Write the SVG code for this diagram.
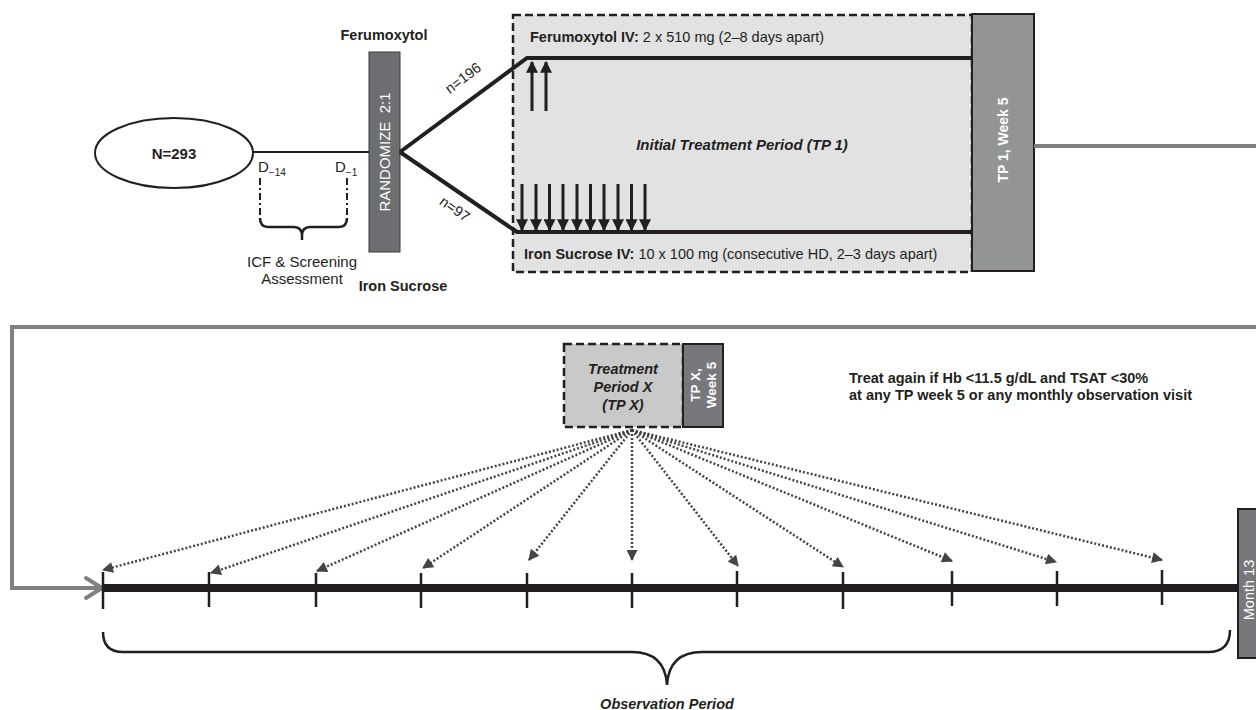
<svg xmlns="http://www.w3.org/2000/svg" width="1256" height="710" viewBox="0 0 1256 710">
<defs>
<style>
text{font-family:"Liberation Sans",Arial,sans-serif;fill:#231f20}
.b{font-weight:bold}
.bi{font-weight:bold;font-style:italic}
.w{fill:#ffffff;font-weight:bold}
.wn{fill:#ffffff}
.thick{stroke:#231f20;stroke-width:4;fill:none}
.dot{stroke:#444;stroke-width:2.5;stroke-dasharray:2 2;fill:none}
.tick{stroke:#231f20;stroke-width:2.5}
</style>
<marker id="ah" viewBox="0 0 10 10" refX="9" refY="5" markerWidth="4" markerHeight="4" orient="auto" markerUnits="strokeWidth">
<path d="M0,0 L10,5 L0,10 z" fill="#231f20"/>
</marker>
<marker id="dh" viewBox="0 0 10 10" refX="9" refY="5" markerWidth="5" markerHeight="4.4" orient="auto" markerUnits="strokeWidth">
<path d="M0,0 L10,5 L0,10 z" fill="#444"/>
</marker>
</defs>

<g id="enroll">
<ellipse cx="174" cy="153" rx="79" ry="35" fill="#fff" stroke="#231f20" stroke-width="2"/>
<text x="174" y="159" text-anchor="middle" class="b" font-size="15">N=293</text>
</g>

<g id="screening">
<text x="258" y="172" font-size="15">D<tspan font-size="10" dy="4">−14</tspan></text>
<text x="335" y="172" font-size="15">D<tspan font-size="10" dy="4">−1</tspan></text>
<path d="M260,178 V218 M347,178 V218" stroke="#231f20" stroke-width="2" stroke-dasharray="7 3 2 3" fill="none"/>
<path d="M260,218 Q260,227 268,227 H294 Q302,227 302,236 V240 M302,236 Q302,227 310,227 H339 Q347,227 347,218" stroke="#231f20" stroke-width="2.5" fill="none"/>
<text x="302" y="267" text-anchor="middle" font-size="15" fill="#333">ICF &amp; Screening</text>
<text x="302" y="284" text-anchor="middle" font-size="15" fill="#333">Assessment</text>
</g>

<g id="randomize">
<text x="384" y="40" text-anchor="middle" class="b" font-size="14.5">Ferumoxytol</text>
<rect x="369" y="52" width="31" height="200" fill="#6d6e71" stroke="#3a3a3a" stroke-width="1"/>
<text transform="translate(390,152) rotate(-90)" text-anchor="middle" class="wn" font-size="15" xml:space="preserve">RANDOMIZE  2:1</text>
<text x="403" y="291" text-anchor="middle" class="b" font-size="14.5">Iron Sucrose</text>
</g>

<g id="tp1">
<rect x="513" y="15" width="459" height="257" fill="#e2e2e3" stroke="#231f20" stroke-width="2.5" stroke-dasharray="8 4"/>
<text x="530" y="42" font-size="14.5"><tspan class="b">Ferumoxytol IV:</tspan> 2 x 510 mg (2–8 days apart)</text>
<text x="742" y="150" text-anchor="middle" class="bi" font-size="15">Initial Treatment Period (TP 1)</text>
<text x="524" y="259" font-size="14.5"><tspan class="b">Iron Sucrose IV:</tspan> 10 x 100 mg (consecutive HD, 2–3 days apart)</text>
</g>

<g id="tp1-week5">
<rect x="972" y="14" width="62" height="257" fill="#939496" stroke="#231f20" stroke-width="2"/>
<text transform="translate(1008,140) rotate(-90)" text-anchor="middle" class="w" font-size="14">TP 1, Week 5</text>
</g>

<g id="tpx">
<rect x="564" y="344" width="119" height="83" fill="#c9c9ca" stroke="#231f20" stroke-width="2.5" stroke-dasharray="8 4"/>
<text x="623" y="374" text-anchor="middle" class="bi" font-size="14.5">Treatment</text>
<text x="623" y="392" text-anchor="middle" class="bi" font-size="14.5">Period X</text>
<text x="623" y="410" text-anchor="middle" class="bi" font-size="14.5">(TP X)</text>
</g>

<g id="tpx-week5">
<rect x="683" y="344" width="40" height="83" fill="#77787b" stroke="#231f20" stroke-width="2"/>
<text transform="translate(700,385) rotate(-90)" text-anchor="middle" class="w" font-size="13.5">TP X,</text>
<text transform="translate(716,385) rotate(-90)" text-anchor="middle" class="w" font-size="13.5">Week 5</text>
</g>

<g id="note">
<text x="849" y="383" class="b" font-size="14.5">Treat again if Hb &lt;11.5 g/dL and TSAT &lt;30%</text>
<text x="849" y="400" class="b" font-size="14.5">at any TP week 5 or any monthly observation visit</text>
</g>

<g id="month13">
<rect x="1238" y="509" width="22" height="149" fill="#77787b" stroke="#231f20" stroke-width="2"/>
<text transform="translate(1254,590) rotate(-90)" text-anchor="middle" class="wn" font-size="14.5">Month 13</text>
</g>

<g id="observation">
<path d="M103,632 Q103,652 123,652 H632 Q665,652 667,685 Q669,652 702,652 H1208 Q1230,652 1230,630" stroke="#231f20" stroke-width="2.5" fill="none"/>
<text x="667" y="709" text-anchor="middle" class="bi" font-size="14.5">Observation Period</text>
</g>

<g id="connectors">
<line x1="253" y1="152" x2="369" y2="152" stroke="#231f20" stroke-width="2"/>
<polyline class="thick" points="400,152 527,58 972,58"/>
<polyline class="thick" points="400,152 517,232 972,232"/>
<text transform="translate(466,82) rotate(-37)" text-anchor="middle" font-size="14.5">n=196</text>
<text transform="translate(452,213) rotate(35)" text-anchor="middle" font-size="14.5">n=97</text>
<g stroke="#231f20" stroke-width="3" marker-end="url(#ah)">
<line x1="532" y1="111" x2="532" y2="62"/>
<line x1="546" y1="111" x2="546" y2="62"/>
</g>
<g stroke="#231f20" stroke-width="3" marker-end="url(#ah)">
<line x1="522" y1="184" x2="522" y2="230"/>
<line x1="536" y1="184" x2="536" y2="230"/>
<line x1="549.5" y1="184" x2="549.5" y2="230"/>
<line x1="563" y1="184" x2="563" y2="230"/>
<line x1="577" y1="184" x2="577" y2="230"/>
<line x1="590.5" y1="184" x2="590.5" y2="230"/>
<line x1="604" y1="184" x2="604" y2="230"/>
<line x1="618" y1="184" x2="618" y2="230"/>
<line x1="631.5" y1="184" x2="631.5" y2="230"/>
<line x1="645" y1="184" x2="645" y2="230"/>
</g>
<path d="M1034,146 H1256 M1256,327 H12 V588 H100" stroke="#808083" stroke-width="4" fill="none"/>
<polyline points="86,578 102,588 86,598" stroke="#808083" stroke-width="4" fill="none" stroke-linecap="round" stroke-linejoin="round"/>
<line x1="103" y1="588" x2="1238" y2="588" stroke="#231f20" stroke-width="8"/>
<g class="tick">
<line x1="103" y1="572" x2="103" y2="609"/>
<line x1="209" y1="572" x2="209" y2="607"/>
<line x1="316" y1="573" x2="316" y2="607"/>
<line x1="421" y1="573" x2="421" y2="608"/>
<line x1="527" y1="573" x2="527" y2="608"/>
<line x1="632" y1="573" x2="632" y2="608"/>
<line x1="737" y1="571" x2="737" y2="607"/>
<line x1="843" y1="572" x2="843" y2="609"/>
<line x1="952" y1="571" x2="952" y2="606"/>
<line x1="1057" y1="571" x2="1057" y2="606"/>
<line x1="1162" y1="570" x2="1162" y2="605"/>
</g>
<g class="dot" marker-end="url(#dh)">
<line x1="632" y1="430" x2="103" y2="570"/>
<line x1="632" y1="430" x2="211" y2="573"/>
<line x1="632" y1="430" x2="317" y2="571"/>
<line x1="632" y1="430" x2="423" y2="568"/>
<line x1="632" y1="430" x2="529" y2="560"/>
<line x1="632" y1="430" x2="632" y2="560"/>
<line x1="632" y1="430" x2="738" y2="566"/>
<line x1="632" y1="430" x2="843" y2="567"/>
<line x1="632" y1="430" x2="952" y2="561"/>
<line x1="632" y1="430" x2="1056" y2="562"/>
<line x1="632" y1="430" x2="1162" y2="560"/>
</g>
</g>
</svg>
